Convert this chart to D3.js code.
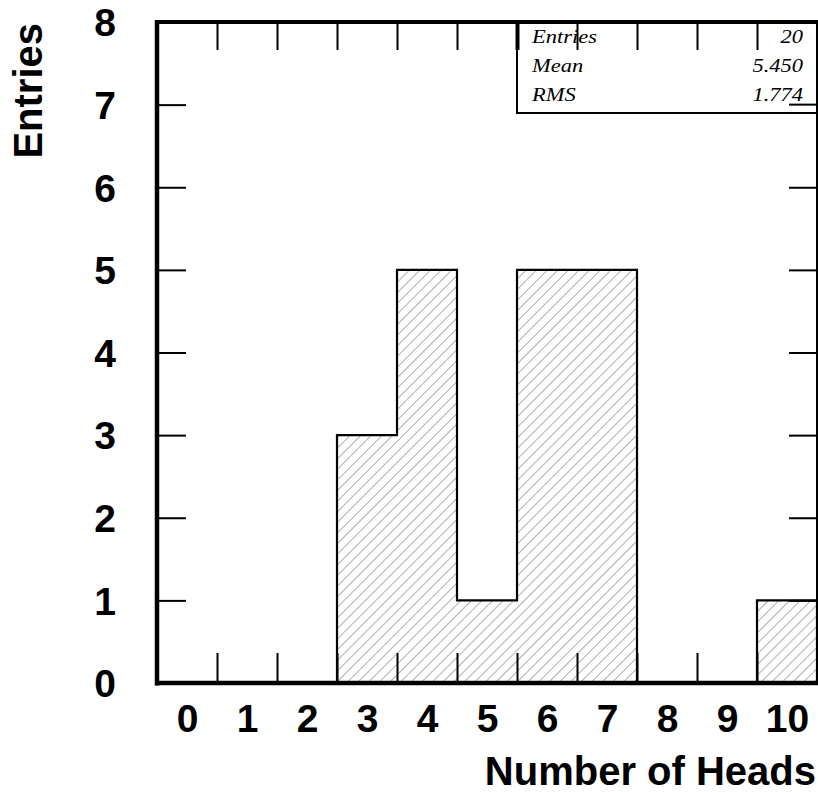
<!DOCTYPE html>
<html><head><meta charset="utf-8">
<script src="https://cdn.jsdelivr.net/npm/d3@7"></script>
<style>
html,body{margin:0;padding:0;background:#fff;}
svg{display:block;}
</style></head>
<body>
<script>
// ---- data ----
const bins = [0,1,2,3,4,5,6,7,8,9,10];
const counts = [0,0,0,3,5,1,5,5,0,0,1];
const binEdgesInner = [0.5,1.5,2.5,3.5,4.5,5.5,6.5,7.5,8.5,9.5];
const yTickValues = [0,1,2,3,4,5,6,7,8];
const statNames = ["Entries","Mean","RMS"];
const statValues = ["20","5.450","1.774"];
const xTitle = "Number of Heads";
const yTitle = "Entries";

const W = 818, H = 792;
const svg = d3.select("body").append("svg").attr("width", W).attr("height", H);

const x = d3.scaleLinear().domain([-0.5, 10.5]).range([157, 817]);
const y = d3.scaleLinear().domain([0, 8]).range([683, 22]);

// hatch pattern
const defs = svg.append("defs");
const pat = defs.append("pattern").attr("id","hatch").attr("patternUnits","userSpaceOnUse")
  .attr("width", 7.5).attr("height", 7.5).attr("patternTransform","rotate(45)");
pat.append("line").attr("x1",0).attr("y1",0).attr("x2",0).attr("y2",7.5)
  .attr("stroke","#7a7a7a").attr("stroke-width",1.2);

// histogram step data
const steps = bins.map((b,i)=>({x:b-0.5, v:counts[i]}));
steps.push({x:10.5, v:counts[counts.length-1]});

svg.append("path").datum(steps)
  .attr("d", d3.area().x(d=>x(d.x)).y0(y(0)).y1(d=>y(d.v)).curve(d3.curveStepAfter))
  .attr("fill","url(#hatch)");

const outline = [{x:-0.5,v:0}].concat(steps).concat([{x:10.5,v:0}]);
svg.append("path").datum(outline)
  .attr("d", d3.line().x(d=>x(d.x)).y(d=>y(d.v)).curve(d3.curveStepAfter))
  .attr("fill","none").attr("stroke","#000").attr("stroke-width",2.2);

// ticks via axes
const tickStyle = g => { g.select(".domain").remove(); g.selectAll("line").attr("stroke","#000").attr("stroke-width",2); g.selectAll("text").remove(); };
svg.append("g").attr("transform",`translate(0,${y(0)})`)
  .call(d3.axisBottom(x).tickValues(binEdgesInner).tickSize(-30)).call(tickStyle);
svg.append("g").attr("transform",`translate(0,${y(8)})`)
  .call(d3.axisTop(x).tickValues(binEdgesInner).tickSize(-28)).call(tickStyle);
svg.append("g").attr("transform",`translate(${x(-0.5)},0)`)
  .call(d3.axisLeft(y).tickValues(yTickValues.slice(1,-1)).tickSize(-29)).call(tickStyle);
svg.append("g").attr("transform",`translate(${x(10.5)},0)`)
  .call(d3.axisRight(y).tickValues(yTickValues.slice(1,-1)).tickSize(-28)).call(tickStyle);

// frame
svg.append("line").attr("x1",x(10.5)).attr("x2",x(10.5)).attr("y1",y(8)).attr("y2",y(0))
  .attr("stroke","#000").attr("stroke-width",2);
svg.append("line").attr("x1",x(-0.5)).attr("x2",x(-0.5)).attr("y1",y(8)-2).attr("y2",y(0)+2.5)
  .attr("stroke","#000").attr("stroke-width",4.5);
svg.append("line").attr("x1",x(-0.5)-2).attr("x2",W).attr("y1",y(8)).attr("y2",y(8))
  .attr("stroke","#000").attr("stroke-width",4);
svg.append("line").attr("x1",x(-0.5)-2).attr("x2",W).attr("y1",y(0)).attr("y2",y(0))
  .attr("stroke","#000").attr("stroke-width",4.5);

// tick labels
const lab = "'Liberation Sans', Arial, Helvetica, sans-serif";
const xa = svg.append("g").attr("transform",`translate(0,${y(0)})`)
  .call(d3.axisBottom(x).tickValues(bins).tickSize(0).tickFormat(d3.format("d")));
xa.select(".domain").remove();
xa.selectAll("text").attr("y", 49).attr("dy", null)
  .attr("font-family", lab).attr("font-weight","bold").attr("font-size", 39).attr("fill","#000");

const ya = svg.append("g").attr("transform",`translate(${x(-0.5)},0)`)
  .call(d3.axisLeft(y).tickValues(yTickValues).tickSize(0).tickFormat(d3.format("d")));
ya.select(".domain").remove();
ya.selectAll("text").attr("x", -41).attr("dy","0.355em")
  .attr("font-family", lab).attr("font-weight","bold").attr("font-size", 39).attr("fill","#000");

// axis titles
svg.append("text").attr("x", 816).attr("y", 785).attr("text-anchor","end")
  .attr("font-family", lab).attr("font-weight","bold").attr("font-size", 40).text(xTitle);
svg.append("text").attr("transform","translate(42,23) rotate(-90)").attr("text-anchor","end")
  .attr("font-family", lab).attr("font-weight","bold").attr("font-size", 40).text(yTitle);

// stats box
const bx0 = x(5.5), by1 = 113;
svg.append("rect").attr("x", bx0).attr("y", y(8)).attr("width", W - bx0 + 5).attr("height", by1 - y(8))
  .attr("fill","#fff").attr("stroke","#000").attr("stroke-width",2);
// top ticks redrawn over box region (as in reference)
svg.append("g").attr("transform",`translate(0,${y(8)})`)
  .call(d3.axisTop(x).tickValues(binEdgesInner.filter(v=>v>=5.5)).tickSize(-28)).call(tickStyle)
  .selectAll("line").attr("stroke-width", (d)=> d===5.5 ? 4 : 2);
svg.append("line").attr("x1",x(5.5)).attr("x2",W).attr("y1",y(8)).attr("y2",y(8))
  .attr("stroke","#000").attr("stroke-width",4);
svg.append("line").attr("x1",x(10.5)-28).attr("x2",x(10.5)).attr("y1",y(7)).attr("y2",y(7))
  .attr("stroke","#000").attr("stroke-width",2);
svg.append("line").attr("x1",x(10.5)).attr("x2",x(10.5)).attr("y1",y(8)).attr("y2",by1)
  .attr("stroke","#000").attr("stroke-width",2);

const serif = "'Liberation Serif', 'Times New Roman', Times, serif";
const sx = 1.25;
statNames.forEach((n,i)=>{
  const by = 43 + i*29;
  svg.append("text").attr("transform",`translate(532,${by}) scale(${sx},1)`)
    .attr("font-family", serif).attr("font-style","italic").attr("font-size",18).text(n);
  svg.append("text").attr("transform",`translate(803,${by}) scale(${sx},1)`).attr("text-anchor","end")
    .attr("font-family", serif).attr("font-style","italic").attr("font-size",18).text(statValues[i]);
});
</script>
</body></html>
